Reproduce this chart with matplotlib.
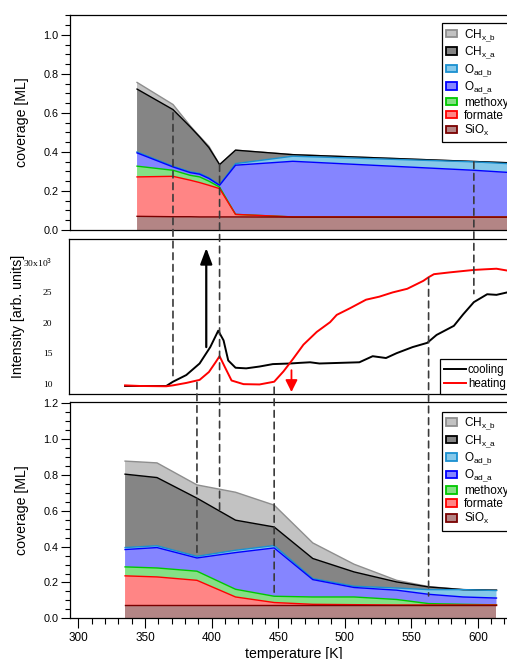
import numpy as np
import matplotlib.pyplot as plt
from matplotlib.patches import ConnectionPatch, Patch
from matplotlib.ticker import MultipleLocator, FormatStrFormatter

plt.rcParams['font.family'] = ['Liberation Sans', 'DejaVu Sans']
plt.rcParams['mathtext.fontset'] = 'custom'
plt.rcParams['mathtext.rm'] = 'Liberation Sans'

# top panel: coverage per species [ML]
t_top = [344, 371, 384, 391, 398, 406, 418, 461, 597, 625]
top_siox = [0.070, 0.068, 0.068, 0.067, 0.067, 0.067, 0.067, 0.066, 0.066, 0.066]
top_formate = [0.202, 0.207, 0.187, 0.176, 0.162, 0.145, 0.013, 0.001, 0.0, 0.0]
top_methoxy = [0.055, 0.031, 0.025, 0.029, 0.021, 0.008, 0.0, 0.0, 0.0, 0.0]
top_oad_a = [0.068, 0.017, 0.014, 0.014, 0.014, 0.009, 0.252, 0.285, 0.240, 0.228]
top_oad_b = [0.005, 0.004, 0.004, 0.004, 0.004, 0.003, 0.008, 0.026, 0.043, 0.045]
top_chx_a = [0.322, 0.290, 0.230, 0.187, 0.154, 0.103, 0.069, 0.008, 0.002, 0.005]
top_chx_b = [0.034, 0.026, 0.005, 0.003, 0.007, 0.0, 0.0, 0.0, 0.0, 0.0]

# middle panel: intensity [x10^3]
cool_t = [335, 350, 366, 371, 381, 391, 399, 405, 409, 412.5, 418, 426, 436, 446, 459,
          466, 474, 481, 496, 511, 521, 531, 539, 551, 562, 569, 582, 589, 597, 607, 614, 622]
cool_i = [9.6, 9.6, 9.6, 10.3, 11.4, 13.3, 16.0, 18.7, 17.1, 13.8, 12.6, 12.5, 12.8, 13.2, 13.3,
          13.4, 13.5, 13.3, 13.4, 13.5, 14.5, 14.2, 15.0, 16.0, 16.7, 18.0, 19.5, 21.4, 23.4, 24.7, 24.6, 25.0]
heat_t = [335, 346, 366, 371, 381, 391, 398, 403, 406, 410, 415, 424, 436, 447, 454, 461, 469,
          479, 489, 494, 504, 516, 526, 536, 547, 559, 563, 567, 579, 597, 605, 614, 622]
heat_i = [9.7, 9.6, 9.55, 9.7, 10.1, 10.6, 11.9, 13.5, 14.5, 12.7, 10.5, 9.9, 9.85, 10.3, 12.0, 14.0, 16.4,
          18.5, 20.1, 21.3, 22.4, 23.8, 24.3, 25.0, 25.6, 26.9, 27.5, 28.0, 28.3, 28.7, 28.8, 28.9, 28.6]

# bottom panel: coverage per species [ML]
t_bot = [335, 359, 389, 418, 447, 476, 507, 539, 563, 589, 614]
bot_siox = [0.073, 0.073, 0.073, 0.073, 0.073, 0.073, 0.073, 0.073, 0.073, 0.073, 0.073]
bot_formate = [0.164, 0.158, 0.139, 0.046, 0.015, 0.005, 0.003, 0.001, 0.001, 0.001, 0.001]
bot_methoxy = [0.050, 0.050, 0.051, 0.043, 0.035, 0.041, 0.043, 0.031, 0.008, 0.004, 0.001]
bot_oad_a = [0.097, 0.114, 0.074, 0.205, 0.270, 0.097, 0.053, 0.052, 0.052, 0.041, 0.038]
bot_oad_b = [0.011, 0.010, 0.009, 0.013, 0.013, 0.006, 0.007, 0.012, 0.026, 0.041, 0.042]
bot_chx_a = [0.410, 0.381, 0.325, 0.168, 0.104, 0.112, 0.080, 0.034, 0.015, 0.000, 0.002]
bot_chx_b = [0.073, 0.082, 0.074, 0.156, 0.122, 0.087, 0.043, 0.009, 0.002, 0.0, 0.0]

names = ['SiO$_\\mathregular{x}$', 'formate', 'methoxy', 'O$_\\mathregular{ad\\_a}$',
         'O$_\\mathregular{ad\\_b}$', 'CH$_\\mathregular{x\\_a}$', 'CH$_\\mathregular{x\\_b}$']
faces = ['#b38585', '#ff8585', '#85e085', '#8585ff', '#85c8ea', '#858585', '#c2c2c2']
edges = ['#7a0000', '#ff0000', '#00c800', '#0000ff', '#1a90d0', '#000000', '#8e8e8e']

fig = plt.figure(figsize=(5.07, 6.59), dpi=100)
ax_top = fig.add_axes([0.139, 0.651, 0.8807, 0.3267])
ax_mid = fig.add_axes([0.1361, 0.4014, 0.8836, 0.236])
ax_bot = fig.add_axes([0.139, 0.0618, 0.8807, 0.3287])


def draw_stack(ax, t, layers):
    base = np.zeros(len(t))
    tops = []
    for vals, fc in zip(layers, faces):
        top = base + np.array(vals)
        ax.fill_between(t, base, top, facecolor=fc, lw=0)
        tops.append(top)
        base = top
    for top, ec in reversed(list(zip(tops, edges))):
        ax.plot(t, top, color=ec, lw=1)
    handles = [Patch(facecolor=f, edgecolor=e, lw=1.3, label=n)
               for f, e, n in zip(faces, edges, names)][::-1]
    return handles


def coverage_axes(ax, ytop):
    ax.set_xlim(294, 629.4)
    ax.set_ylim(0, ytop)
    ax.yaxis.set_major_locator(MultipleLocator(0.2))
    ax.yaxis.set_minor_locator(MultipleLocator(0.05))
    ax.yaxis.set_major_formatter(FormatStrFormatter('%.1f'))
    ax.tick_params(axis='y', which='major', length=6.5, width=0.8, labelsize=7.8, pad=2)
    ax.tick_params(axis='y', which='minor', length=3.3, width=0.8)
    ax.set_ylabel('coverage [ML]', fontsize=10.2)
    for s in ax.spines.values():
        s.set_linewidth(0.9)


h = draw_stack(ax_top, t_top, [top_siox, top_formate, top_methoxy, top_oad_a,
                               top_oad_b, top_chx_a, top_chx_b])
coverage_axes(ax_top, 1.103)
ax_top.tick_params(axis='x', which='both', bottom=False, labelbottom=False)
ax_top.yaxis.set_label_coords(-0.093, 0.5)
leg_kw = dict(loc='upper right', borderaxespad=0, fontsize=8.5, fancybox=False,
              edgecolor='black', framealpha=1, handlelength=0.9, handleheight=0.6,
              handletextpad=0.6, labelspacing=0.08, borderpad=0.35)
lg = ax_top.legend(handles=h, bbox_to_anchor=(0.99, 0.961), **leg_kw)
lg.get_frame().set_linewidth(0.9)

draw_stack(ax_bot, t_bot, [bot_siox, bot_formate, bot_methoxy, bot_oad_a,
                           bot_oad_b, bot_chx_a, bot_chx_b])
coverage_axes(ax_bot, 1.21)
ax_bot.yaxis.set_label_coords(-0.092, 0.5)
ax_bot.xaxis.set_major_locator(MultipleLocator(50))
ax_bot.xaxis.set_minor_locator(MultipleLocator(10))
ax_bot.tick_params(axis='x', which='major', length=7, width=0.8, labelsize=8.5, pad=3)
ax_bot.tick_params(axis='x', which='minor', length=4, width=0.8)
ax_bot.set_xlabel('temperature [K]', fontsize=10.2)
ax_bot.xaxis.set_label_coords(0.5, -0.1325)
lg = ax_bot.legend(handles=h, bbox_to_anchor=(0.99, 0.954), **leg_kw)
lg.get_frame().set_linewidth(0.9)

# middle panel
ax_mid.plot(cool_t, cool_i, color='black', lw=1.4, label='cooling')
ax_mid.plot(heat_t, heat_i, color='red', lw=1.4, label='heating')
ax_mid.set_xlim(292.9, 629.4)
ax_mid.set_ylim(8.2, 33.8)
ax_mid.set_yticks([10, 15, 20, 25, 30])
ax_mid.set_yticklabels(['10', '15', '20', '25', '30x10$^3$'], fontfamily='Liberation Serif', fontsize=6.8)
ax_mid.tick_params(axis='y', length=0, pad=12)
ax_mid.tick_params(axis='x', bottom=False, labelbottom=False)
ax_mid.set_ylabel('Intensity [arb. units]', fontsize=10.2)
ax_mid.yaxis.set_label_coords(-0.0993, 0.5)
for s in ax_mid.spines.values():
    s.set_linewidth(0.9)
lg = ax_mid.legend(loc='lower right', bbox_to_anchor=(0.985, 0), borderaxespad=0, fontsize=8.3,
                   fancybox=False, edgecolor='black', framealpha=1, handlelength=1.9,
                   handletextpad=0.15, labelspacing=0.2, borderpad=0.4)
lg.get_frame().set_linewidth(0.9)

ax_mid.annotate('', xy=(396, 32.3), xytext=(396, 16.0),
                arrowprops=dict(arrowstyle='-|>,head_length=0.8,head_width=0.3', lw=1.6,
                                color='black', mutation_scale=12, shrinkA=0, shrinkB=0))
ax_mid.annotate('', xy=(460, 8.6), xytext=(460, 12.2),
                arrowprops=dict(arrowstyle='-|>,head_length=0.6,head_width=0.3', lw=1.3,
                                color='red', mutation_scale=12, shrinkA=0, shrinkB=0))

# dashed guide lines across panels
guides = [(371, ax_top, 0.60, ax_mid, 11.3),
          (406, ax_top, 0.335, ax_bot, 0.60),
          (389, ax_mid, 10.2, ax_bot, 0.35),
          (447, ax_mid, 9.4, ax_bot, 0.13),
          (563, ax_mid, 27.4, ax_bot, 0.125),
          (597, ax_top, 0.349, ax_mid, 24.8)]
for t, a1, y1, a2, y2 in guides:
    con = ConnectionPatch(xyA=(t, y1), coordsA=a1.transData, xyB=(t, y2), coordsB=a2.transData,
                          color='#3a3a3a', lw=1.2, ls=(0, (4, 3)))
    fig.add_artist(con)

fig.savefig('out.png', dpi=100)
